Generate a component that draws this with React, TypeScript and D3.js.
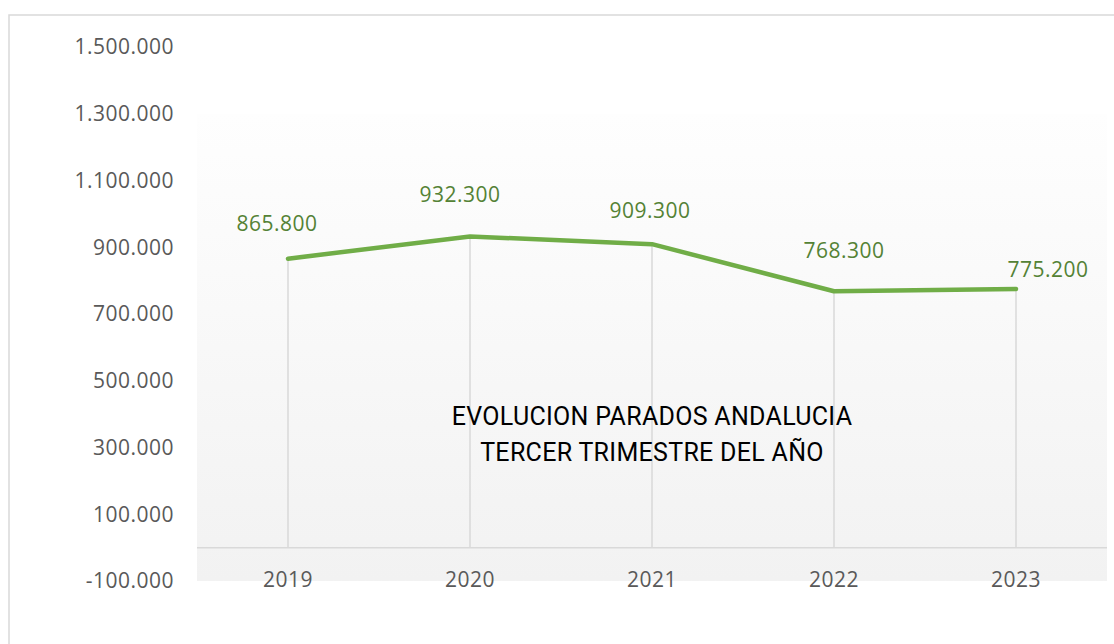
import React from 'react'
import * as d3 from 'd3'

// data
const years = ['2019', '2020', '2021', '2022', '2023']
const parados = [865800, 932300, 909300, 768300, 775200]
const yTicks = [-100000, 100000, 300000, 500000, 700000, 900000, 1100000, 1300000, 1500000]
const titleLines = ['EVOLUCION PARADOS ANDALUCIA', 'TERCER TRIMESTRE DEL AÑO']
// label nudges (the labels were moved by hand in the original)
const labelDx = [-11, -10, -2, 10, 32]
const labelDy = [-28, -34, -26, -33, -12]

const W = 1114
const H = 644
const font = '"Open Sans", "DejaVu Sans", sans-serif'

// 1.500.000 style numbers
const fmt = (v: number) => {
  const s = Math.abs(v).toString().replace(/\B(?=(\d{3})+(?!\d))/g, '.')
  return (v < 0 ? '-' : '') + s
}

export default function App() {
  const x = d3.scaleBand().domain(years).range([197, 1107])
  const y = d3.scaleLinear().domain([-100000, 1500000]).range([581, 47])
  const cx = (d: string) => (x(d) || 0) + x.bandwidth() / 2

  const line = d3
    .line<number>()
    .x((_, i) => cx(years[i]))
    .y(v => y(v))

  const [x0, x1] = x.range()

  return (
    <svg
      width={W}
      height={H}
      style={{ position: 'absolute', left: 0, top: 0, display: 'block', background: '#fff' }}
    >
      <defs>
        <linearGradient id="plotbg" x1="0" y1="0" x2="0" y2="1">
          <stop offset="0" stopColor="#fefefe" />
          <stop offset="1" stopColor="#f2f2f2" />
        </linearGradient>
      </defs>

      {/* chart frame */}
      <rect x={9} y={15} width={W + 20} height={H + 20} fill="none" stroke="#d9d9d9" strokeWidth={1.5} />

      {/* plot area */}
      <rect x={x0} y={y(1300000)} width={x1 - x0} height={y(-100000) - y(1300000)} fill="url(#plotbg)" />

      {/* drop lines */}
      {parados.map((v, i) => (
        <line
          key={'d' + i}
          x1={cx(years[i])}
          x2={cx(years[i])}
          y1={y(v)}
          y2={y(0)}
          stroke="#d9d9d9"
          strokeWidth={1.5}
        />
      ))}

      {/* zero axis */}
      <line x1={x0} x2={x1} y1={y(0)} y2={y(0)} stroke="#d9d9d9" strokeWidth={1.5} />

      {/* y tick labels */}
      {yTicks.map(t => (
        <text
          key={t}
          x={174}
          y={y(t)}
          dy="0.35em"
          textAnchor="end"
          fontFamily={font}
          fontSize={21}
          letterSpacing={0.5}
          fill="#595959"
        >
          {fmt(t)}
        </text>
      ))}

      {/* x labels */}
      {years.map(d => (
        <text
          key={d}
          x={cx(d)}
          y={587}
          textAnchor="middle"
          fontFamily={font}
          fontSize={21}
          letterSpacing={0.5}
          fill="#595959"
        >
          {d}
        </text>
      ))}

      {/* series */}
      <path
        d={line(parados) || ''}
        fill="none"
        stroke="#70ad47"
        strokeWidth={4.5}
        strokeLinecap="round"
        strokeLinejoin="round"
      />

      {/* data labels */}
      {parados.map((v, i) => (
        <text
          key={'l' + i}
          x={cx(years[i]) + labelDx[i]}
          y={y(v) + labelDy[i]}
          textAnchor="middle"
          fontFamily={font}
          fontSize={21}
          letterSpacing={0.5}
          fill="#548235"
        >
          {fmt(v)}
        </text>
      ))}

      {/* title inside the plot */}
      <text textAnchor="middle" fontFamily="Roboto, sans-serif" fontSize={25} fill="#000" letterSpacing={0.3}>
        {titleLines.map((t, i) => (
          <tspan key={i} x={cx('2021')} y={425 + i * 36}>
            {t}
          </tspan>
        ))}
      </text>
    </svg>
  )
}
